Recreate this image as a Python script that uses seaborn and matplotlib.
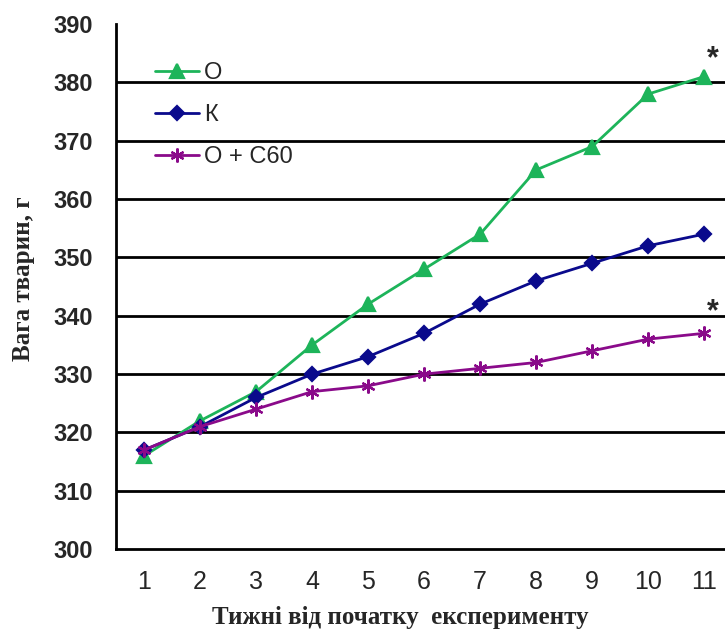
import matplotlib
matplotlib.use('Agg')
import matplotlib.pyplot as plt
from matplotlib import font_manager
import seaborn as sns
import pandas as pd
from matplotlib.ticker import FixedLocator, NullFormatter

weeks = [1, 2, 3, 4, 5, 6, 7, 8, 9, 10, 11]
group_o = [316, 322, 327, 335, 342, 348, 354, 365, 369, 378, 381]
group_k = [317, 321, 326, 330, 333, 337, 342, 346, 349, 352, 354]
group_o_c60 = [317, 321, 324, 327, 328, 330, 331, 332, 334, 336, 337]
series_names = ['О', 'К', 'О + С60']
y_ticks = [300, 310, 320, 330, 340, 350, 360, 370, 380, 390]
# significance marks: (week, weight level)
stars = [(11, 384), (11, 340.6)]

df = pd.DataFrame({
    'week': weeks * 3,
    'weight': group_o + group_k + group_o_c60,
    'group': [series_names[0]] * 11 + [series_names[1]] * 11 + [series_names[2]] * 11,
})

sns.set_style('white')
plt.rcParams['font.family'] = ['Liberation Sans', 'DejaVu Sans']

installed = {f.name for f in font_manager.fontManager.ttflist}
if 'Liberation Sans Narrow' in installed:
    ytick_family, ytick_size = ['Liberation Sans Narrow', 'Liberation Sans'], 19
else:
    ytick_family, ytick_size = ['Liberation Sans', 'DejaVu Sans'], 17

fig = plt.figure(figsize=(7.25, 6.32), dpi=100)
ax = fig.add_axes([0.16, 0.131, 0.85, 0.831])

palette = {'О': '#1db45a', 'К': '#0a0a8c', 'О + С60': '#8a0a8a'}
markers = {'О': '^', 'К': 'D', 'О + С60': (6, 2, 0)}
sizes = {'О': 10, 'К': 7.5, 'О + С60': 10}

for name in series_names:
    sub = df[df['group'] == name]
    sns.lineplot(data=sub, x='week', y='weight', ax=ax, color=palette[name],
                 marker=markers[name], markersize=sizes[name], linewidth=2,
                 markeredgecolor=palette[name], markeredgewidth=1.6, label=name)

ax.set_xlim(0.5, 11.5)
ax.set_ylim(300, 390)
ax.set_yticks(y_ticks)
for y in y_ticks[1:-1]:
    ax.axhline(y, color='black', linewidth=2, zorder=0)

ax.xaxis.set_major_locator(FixedLocator([w - 0.5 for w in weeks] + [11.5]))
ax.xaxis.set_major_formatter(NullFormatter())
ax.xaxis.set_minor_locator(FixedLocator(weeks))
ax.set_xticklabels([str(w) for w in weeks], minor=True, fontsize=18)
ax.tick_params(axis='x', which='major', direction='out', length=6.5, width=2, color='black')
ax.tick_params(axis='x', which='minor', length=0, pad=15)
ax.tick_params(axis='y', direction='out', length=6.5, width=2, color='black', pad=10)
for lbl in ax.get_yticklabels():
    lbl.set_fontfamily(ytick_family)
    lbl.set_fontweight('bold')
    lbl.set_fontsize(ytick_size)

for s in ['top', 'right']:
    ax.spines[s].set_visible(False)
for s in ['left', 'bottom']:
    ax.spines[s].set_color('black')
    ax.spines[s].set_linewidth(2)

ax.set_xlabel('Тижні від початку  експерименту', fontsize=18, fontweight='bold',
              family=['Liberation Serif', 'DejaVu Serif'])
ax.set_ylabel('Вага тварин, г', fontsize=18, fontweight='bold',
              family=['Liberation Serif', 'DejaVu Serif'])
ax.xaxis.set_label_coords(0.461, -0.108)
ax.yaxis.set_label_coords(-0.132, 0.516)

for wx, wy in stars:
    ax.text(wx + 0.15, wy, '*', fontsize=22, fontweight='bold', ha='center', va='center')

ax.legend(loc='upper left', bbox_to_anchor=(0.028, 0.968), frameon=False,
          fontsize=17, handlelength=1.9, handletextpad=0.2, labelspacing=0.85)

fig.savefig('out.png', dpi=100)
